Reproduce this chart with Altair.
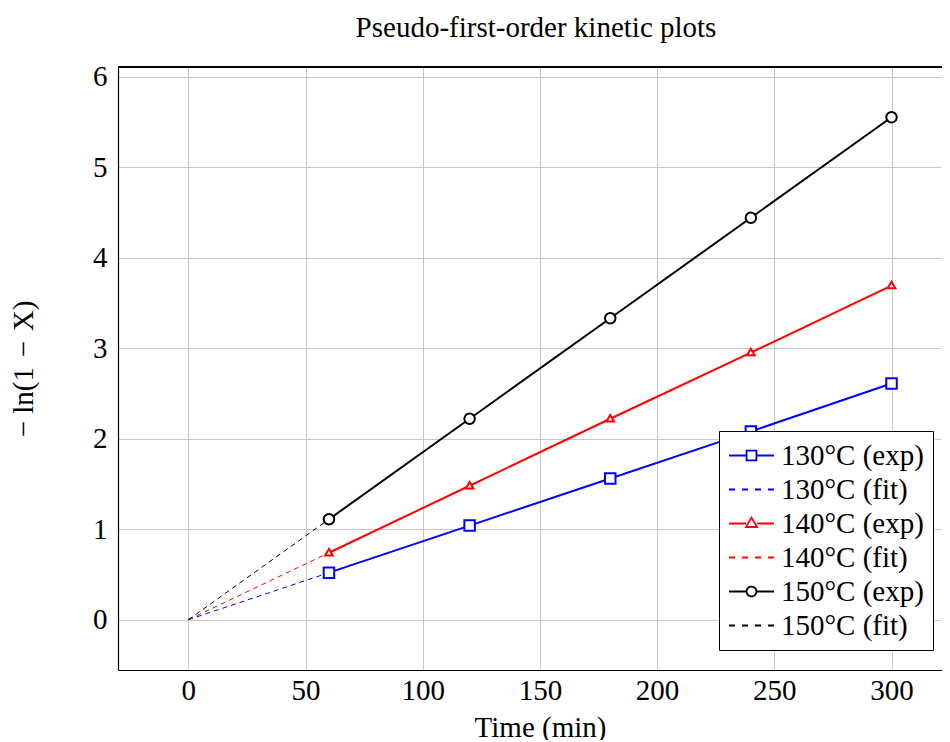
import altair as alt
import pandas as pd

# ---- data ----
times = [60, 120, 180, 240, 300]
y130 = [0.52, 1.04, 1.56, 2.08, 2.61]
y140 = [0.74, 1.48, 2.22, 2.95, 3.69]
y150 = [1.11, 2.22, 3.33, 4.44, 5.55]
fit_t = [0, 60]
fit130 = [0.0, 0.52]
fit140 = [0.0, 0.74]
fit150 = [0.0, 1.11]

temps = ["130", "140", "150"]
temp_colors = ["#0000ff", "#ff0000", "#000000"]
names = ["130°C (exp)", "130°C (fit)", "140°C (exp)", "140°C (fit)", "150°C (exp)", "150°C (fit)"]
colors = ["#0000ff", "#0000ff", "#ff0000", "#ff0000", "#000000", "#000000"]
x_ticks = [0, 50, 100, 150, 200, 250, 300]
y_ticks = [0, 1, 2, 3, 4, 5, 6]

rows = []
for tp, nm, ys, mk in [("130", names[0], y130, "square"), ("140", names[2], y140, "triangle"),
                       ("150", names[4], y150, "circle")]:
    for t, v in zip(times, ys):
        rows.append({"temp": tp, "name": nm, "t": t, "v": v, "kind": "exp", "marker": mk})
for tp, nm, ys in [("130", names[1], fit130), ("140", names[3], fit140), ("150", names[5], fit150)]:
    for t, v in zip(fit_t, ys):
        rows.append({"temp": tp, "name": nm, "t": t, "v": v, "kind": "fit", "marker": "none"})
df = pd.DataFrame(rows)

FONT = "Liberation Serif"
W, H = 824, 603

xs = alt.Scale(domain=[-30, -30 + W / 2.344], nice=False, zero=False)
ys_ = alt.Scale(domain=[-0.555, 6.105], nice=False, zero=False)
sscale = alt.Scale(domain=temps, range=temp_colors)

X = alt.X("t:Q", scale=xs,
          axis=alt.Axis(values=x_ticks, title="Time (min)", grid=True, tickSize=0,
                        labelPadding=6, labelFlush=False,
                        titleX=422, titleY=66, titleBaseline="alphabetic", titleAlign="center"))
Y = alt.Y("v:Q", scale=ys_,
          axis=alt.Axis(values=y_ticks, title="− ln(1\u2004−\u2004X)", grid=True, tickSize=0,
                        labelPadding=11, labelFlush=False,
                        titleX=-95, titleY=H / 2, titleBaseline="middle", titleAlign="center",
                        titleAngle=270))

base = alt.Chart(df)

fit_lines = base.transform_filter(alt.datum.kind == "fit").mark_line(
    strokeWidth=1, strokeDash=[5, 4]
).encode(x=X, y=Y, stroke=alt.Stroke("temp:N", scale=sscale, legend=None), detail="name:N")

exp_lines = base.transform_filter(alt.datum.kind == "exp").mark_line(
    strokeWidth=2
).encode(x=X, y=Y, stroke=alt.Stroke("temp:N", scale=sscale, legend=None), detail="name:N")

def pts(marker, shape, size):
    return base.transform_filter(alt.datum.marker == marker).mark_point(
        shape=shape, size=size, filled=False, fill="white", fillOpacity=1, opacity=1, strokeWidth=2
    ).encode(x=X, y=Y, stroke=alt.Stroke("temp:N", scale=sscale, legend=None))

sq = pts("square", "square", 110)
tr = pts("triangle", "M-1,0.7L0,-1L1,0.7Z", 60)
ci = pts("circle", "circle", 110)

# top frame line (the right side of the frame is outside the visible page in the reference)
top_frame = base.mark_rule(color="black", strokeWidth=1.2).encode(
    x=alt.value(0), x2=alt.value(W), y=alt.value(0)
)

# legend-only layer (invisible marks); symbol paths drawn in units of 14.5 px
shape_paths = [
    "M-1.55,0H-0.34M0.34,0H1.55M-0.34,-0.34H0.34V0.34H-0.34Z",
    "M-1.55,0H1.55",
    "M-1.55,0H-0.38M0.38,0H1.55M-0.38,0.24L0,-0.41L0.38,0.24Z",
    "M-1.55,0H1.55",
    "M-1.55,0H-0.34M0.34,0H1.55M0.34,0A0.34,0.34 0 1,1 -0.34,0A0.34,0.34 0 1,1 0.34,0Z",
    "M-1.55,0H1.55",
]
dashes = [[1, 0], [6, 7], [1, 0], [6, 7], [1, 0], [6, 7]]

legend_layer = base.mark_point(filled=False, opacity=0).encode(
    x=X, y=Y,
    color=alt.Color("name:N", scale=alt.Scale(domain=names, range=colors),
                    legend=alt.Legend(title=None, orient="none", legendX=601, legendY=364,
                                      symbolSize=841, symbolStrokeWidth=1.8,
                                      symbolFillColor="white", symbolOpacity=1,
                                      labelFont=FONT, labelFontSize=29, labelColor="black",
                                      labelOffset=14, rowPadding=3, padding=9,
                                      strokeColor="black", fillColor="white",
                                      symbolOffset=8)),
    shape=alt.Shape("name:N", scale=alt.Scale(domain=names, range=shape_paths)),
    strokeDash=alt.StrokeDash("name:N", scale=alt.Scale(domain=names, range=dashes)),
)

chart = alt.layer(fit_lines, exp_lines, sq, tr, ci, top_frame, legend_layer).properties(
    width=W, height=H,
    title=alt.TitleParams("Pseudo-first-order kinetic plots", font=FONT, fontSize=29,
                          fontWeight="normal", color="black", offset=20, dx=6),
    autosize=alt.AutoSizeParams(type="none"),
    padding={"left": 110, "top": 59, "right": 0, "bottom": 70},
).configure_view(stroke=None).configure_axis(
    gridColor="#c8c8c8", gridWidth=1, domainColor="black", domainWidth=1.2,
    labelFont=FONT, labelFontSize=29, labelColor="black",
    titleFont=FONT, titleFontSize=29, titleFontWeight="normal", titleColor="black",
)

chart.save("out.html", embed_options={"renderer": "svg", "actions": False})
